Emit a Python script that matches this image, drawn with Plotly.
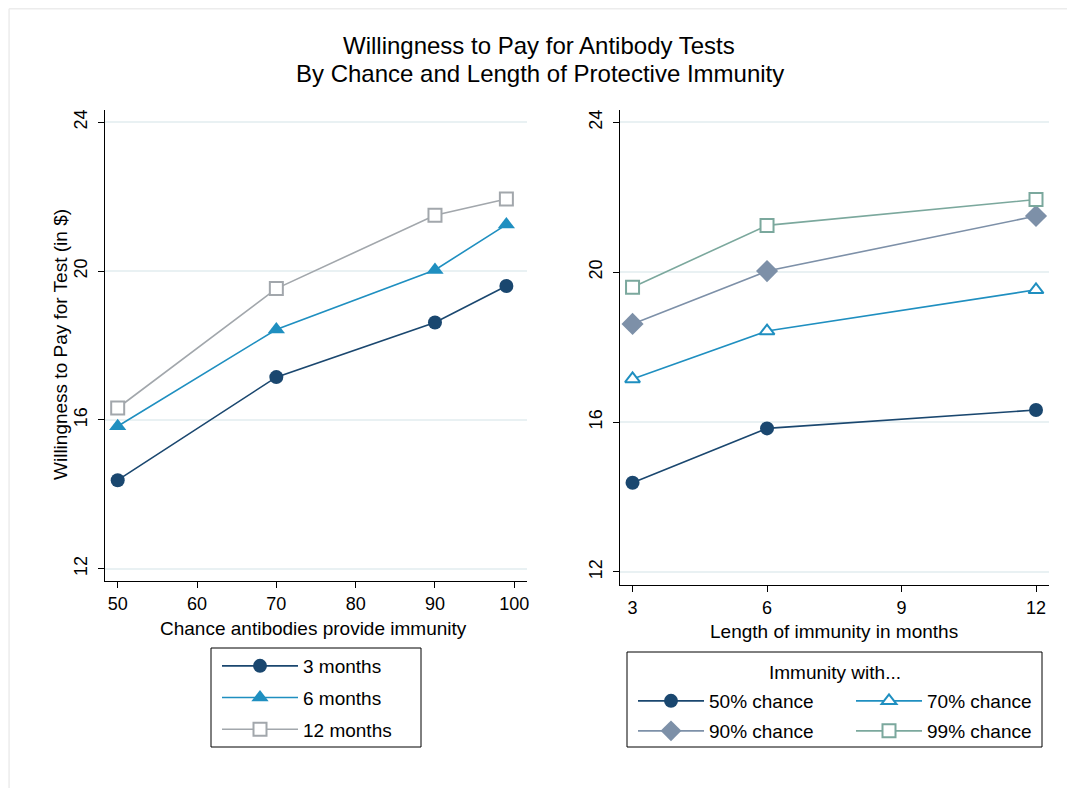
"""Willingness to pay for antibody tests, by chance and length of immunity."""

import plotly.graph_objects as go

W, H = 1075, 788
OFF = 8  # the page body margin shifts the figure by 8px
FONT = "Liberation Sans, Arial, Helvetica, sans-serif"

# data
chances = [50, 70, 90, 99]          # % chance antibodies provide immunity
months = [3, 6, 12]                 # length of immunity in months
wtp_3mo = [14.38, 17.15, 18.62, 19.60]
wtp_6mo = [15.83, 18.43, 20.03, 21.25]
wtp_12mo = [16.32, 19.53, 21.50, 21.94]

month_labels = ["3 months", "6 months", "12 months"]
chance_labels = ["50% chance", "70% chance", "90% chance", "99% chance"]
y_ticks = [12, 16, 20, 24]
x_ticks_left = [50, 60, 70, 80, 90, 100]
x_ticks_right = [3, 6, 9, 12]

NAVY = "#1a476f"
CYAN = "#1f8fc0"
GRAY = "#a2a7ac"
SLATE = "#7d90a8"
TEAL = "#7ba89d"

by_month = [wtp_3mo, wtp_6mo, wtp_12mo]


def px_x(p):
    return (p - OFF) / W


def px_y(p):
    return 1 - (p - OFF) / H


def marker(symbol, color, size, hollow=False):
    if hollow:
        return dict(symbol=symbol, size=size, color="white", line=dict(color=color, width=2))
    return dict(symbol=symbol, size=size, color=color, line=dict(color=color, width=0))


left_styles = [
    (NAVY, marker("circle", NAVY, 14)),
    (CYAN, marker("triangle-up", CYAN, 15)),
    (GRAY, marker("square", GRAY, 13, hollow=True)),
]
right_styles = [
    (NAVY, marker("circle", NAVY, 14)),
    (CYAN, marker("triangle-up", CYAN, 13, hollow=True)),
    (SLATE, marker("diamond", SLATE, 17)),
    (TEAL, marker("square", TEAL, 13, hollow=True)),
]
# right legend is laid out as two rows of two entries
right_legends = ["legend2", "legend2", "legend3", "legend3"]

fig = go.Figure()

for label, vals, (color, mk) in zip(month_labels, by_month, left_styles):
    fig.add_trace(
        go.Scatter(
            x=chances, y=vals, name=label, mode="lines+markers",
            line=dict(color=color, width=1.6), marker=mk,
            xaxis="x", yaxis="y", legend="legend", legendgroup=label,
        )
    )

for i, (label, (color, mk), leg) in enumerate(zip(chance_labels, right_styles, right_legends)):
    fig.add_trace(
        go.Scatter(
            x=months, y=[row[i] for row in by_month], name=label, mode="lines+markers",
            line=dict(color=color, width=1.6), marker=mk,
            xaxis="x2", yaxis="y2", legend=leg,
        )
    )

axis_common = dict(
    showline=True, linecolor="black", linewidth=1.2, ticks="outside", ticklen=6,
    tickcolor="black", tickfont=dict(size=18, color="black"), zeroline=False,
)
yaxis_common = dict(
    axis_common, tickvals=y_ticks, tickangle=-90, showgrid=True,
    gridcolor="#e9f1f3", gridwidth=1.5, ticklabelstandoff=4,
)
row_legend = dict(
    xanchor="left", yanchor="top", orientation="h",
    entrywidth=137, entrywidthmode="pixels", itemwidth=66,
    font=dict(size=19), bgcolor="rgba(0,0,0,0)", borderwidth=0,
)

fig.update_layout(
    width=W, height=H,
    paper_bgcolor="white", plot_bgcolor="white",
    font=dict(family=FONT, color="black"),
    margin=dict(l=0, r=0, t=0, b=0, autoexpand=False),
    xaxis=dict(axis_common, domain=[px_x(105), px_x(527)], range=[48.4, 101.6],
               tickvals=x_ticks_left, showgrid=False, anchor="y"),
    yaxis=dict(yaxis_common, domain=[px_y(581), px_y(110)], range=[11.67, 24.33], anchor="x"),
    xaxis2=dict(axis_common, domain=[px_x(620), px_x(1049)], range=[2.72, 12.29],
                tickvals=x_ticks_right, showgrid=False, anchor="y2"),
    yaxis2=dict(yaxis_common, domain=[px_y(585), px_y(110)], range=[11.65, 24.33], anchor="x2"),
    legend=dict(
        x=px_x(217), y=px_y(647), xanchor="left", yanchor="top",
        font=dict(size=19), bgcolor="rgba(0,0,0,0)", borderwidth=0,
        tracegroupgap=4, itemwidth=76,
    ),
    legend2=dict(row_legend, x=px_x(633), y=px_y(682)),
    legend3=dict(row_legend, x=px_x(633), y=px_y(712)),
    showlegend=True,
)

text_common = dict(xref="paper", yref="paper", showarrow=False,
                   xanchor="center", yanchor="middle", font=dict(size=19))
fig.add_annotation(text="Willingness to Pay for Antibody Tests",
                   x=px_x(539), y=px_y(45), **dict(text_common, font=dict(size=24)))
fig.add_annotation(text="By Chance and Length of Protective Immunity",
                   x=px_x(540), y=px_y(73), **dict(text_common, font=dict(size=24)))
fig.add_annotation(text="Willingness to Pay for Test (in $)", textangle=-90,
                   x=px_x(60), y=px_y(345), **text_common)
fig.add_annotation(text="Chance antibodies provide immunity",
                   x=px_x(313), y=px_y(628), **text_common)
fig.add_annotation(text="Length of immunity in months",
                   x=px_x(834), y=px_y(631), **text_common)
fig.add_annotation(text="Immunity with...", x=px_x(835), y=px_y(672), **text_common)

# legend frames and the faint outer graph-region border
fig.add_shape(type="rect", xref="paper", yref="paper",
              x0=px_x(211), x1=px_x(421), y0=px_y(747), y1=px_y(648),
              line=dict(color="black", width=1))
fig.add_shape(type="rect", xref="paper", yref="paper",
              x0=px_x(627), x1=px_x(1042), y0=px_y(747), y1=px_y(652),
              line=dict(color="black", width=1))
fig.add_shape(type="line", xref="paper", yref="paper",
              x0=0.001, x1=0.001, y0=0, y1=0.999, line=dict(color="#ececec", width=1.5))
fig.add_shape(type="line", xref="paper", yref="paper",
              x0=0.001, x1=1, y0=0.999, y1=0.999, line=dict(color="#ececec", width=1.5))

fig.write_html("out.html")
